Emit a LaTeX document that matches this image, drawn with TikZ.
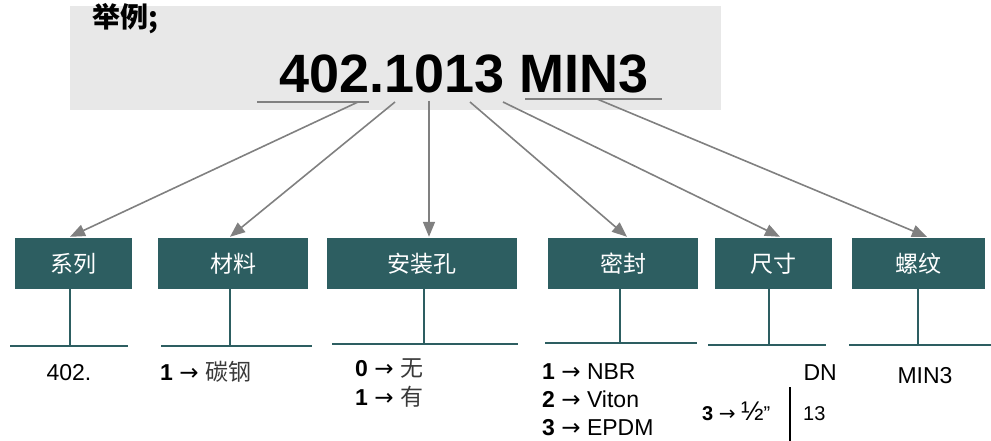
\documentclass[tikz,border=0pt]{standalone}
\usepackage{fontspec}
\setmainfont{Liberation Sans}
\newfontfamily\cjk{Noto Sans CJK SC}
\newfontfamily\symf{DejaVu Sans}
\usetikzlibrary{arrows.meta}
\definecolor{boxteal}{HTML}{2D5E61}
\definecolor{arrgrey}{HTML}{808080}
\definecolor{panelgrey}{HTML}{E8E8E8}
\definecolor{softtext}{HTML}{3A3A3A}
\newcommand{\gives}{{\symf →}}

\begin{document}
\begin{tikzpicture}[x=1pt,y=-1pt,
  hdr/.style={fill=boxteal, text=white, minimum height=51pt, inner sep=0pt, font=\cjk\fontsize{23}{26}\selectfont},
  pointer/.style={draw=arrgrey, line width=1.6pt, -{Triangle[length=15pt,width=12pt]}},
  stem/.style={draw=boxteal, line width=2pt},
  bar/.style={draw=boxteal, line width=1.6pt},
  ans/.style={inner sep=0pt, font=\fontsize{23}{28}\selectfont}]
\useasboundingbox (0,0) rectangle (991,441);
% example code panel
\fill[panelgrey] (70,6) rectangle (721,110);
\node[anchor=base west, inner sep=0pt, font=\cjk\bfseries\fontsize{28}{30}\selectfont] (title) at (92,28) {举例;};
\node[anchor=base, inner sep=0pt, font=\bfseries\fontsize{54}{60}\selectfont] (code) at (464,93) {402.1013 MIN3};
\draw[arrgrey, line width=1.6pt] (257,102) -- (369,102);
\draw[arrgrey, line width=1.6pt] (525,99) -- (662,99);
\coordinate (s1) at (358,102);
\coordinate (s2) at (395,102);
\coordinate (s3) at (429,101);
\coordinate (s4) at (470,102);
\coordinate (s5) at (503,102);
\coordinate (s6) at (597,99);
% field boxes
\node[hdr, minimum width=117pt] (series) at (73.5,263.5) {系列};
\node[hdr, minimum width=150pt] (material) at (233,263.5) {材料};
\node[hdr, minimum width=190pt] (mount) at (422,263.5) {安装孔};
\node[hdr, minimum width=150pt] (seal) at (623,263.5) {密封};
\node[hdr, minimum width=117pt] (size) at (773.5,263.5) {尺寸};
\node[hdr, minimum width=133pt] (thread) at (918.5,263.5) {螺纹};
% pointers
\draw[pointer] (s1) -- ([xshift=-3.5pt,yshift=1pt]series.north);
\draw[pointer] (s2) -- ([xshift=-3pt,yshift=1pt]material.north);
\draw[pointer] (s3) -- ([xshift=7pt,yshift=1pt]mount.north);
\draw[pointer] (s4) -- ([xshift=4pt,yshift=1pt]seal.north);
\draw[pointer] (s5) -- ([xshift=6.5pt,yshift=1pt]size.north);
\draw[pointer] (s6) -- ([xshift=8.5pt,yshift=1pt]thread.north);
% stems and bars
\draw[stem] ([xshift=-3.5pt]series.south) -- ++(0,57);
\draw[bar] (10,346) -- (128,346);
\draw[stem] ([xshift=-3pt]material.south) -- ++(0,57);
\draw[bar] (161,346) -- (312,346);
\draw[stem] ([xshift=2pt]mount.south) -- ++(0,55);
\draw[bar] (332,344) -- (518,344);
\draw[stem] ([xshift=-3pt]seal.south) -- ++(0,54);
\draw[bar] (545,343) -- (697,343);
\draw[stem] ([xshift=-4.5pt]size.south) -- ++(0,56);
\draw[bar] (708,345) -- (826,345);
\draw[stem] ([xshift=-0.5pt]thread.south) -- ++(0,56);
\draw[bar] (849,345) -- (991,345);
% values
\node[ans, anchor=base] (v1) at (69,380) {402.};
\node[ans, anchor=base west] (v2) at (160,380) {\textbf{1} \gives{} {\cjk\color{softtext}碳钢}};
\node[ans, anchor=base west] (v3a) at (355,376) {\textbf{0} \gives{} {\cjk\color{softtext}无}};
\node[ans, anchor=base west] (v3b) at (355,405) {\textbf{1} \gives{} {\cjk\color{softtext}有}};
\foreach \t [count=\i] in {NBR,Viton,EPDM}
  \node[ans, anchor=base west] (v4\i) at (542,351+28*\i) {\textbf{\i} \gives{} \t};
\node[ans, anchor=base east] (v5) at (837,380) {DN};
\node[inner sep=0pt, anchor=base west, font=\fontsize{20}{22}\selectfont] (v5a) at (702,420) {\textbf{3} \gives{} {\fontsize{27}{27}\selectfont ½}”};
\draw[line width=2.4pt] (790,387) -- (790,441);
\node[inner sep=0pt, anchor=base west, font=\fontsize{20}{22}\selectfont] (v5b) at (803,420) {13};
\node[ans, anchor=base] (v6) at (925,383) {MIN3};
\end{tikzpicture}
\end{document}
